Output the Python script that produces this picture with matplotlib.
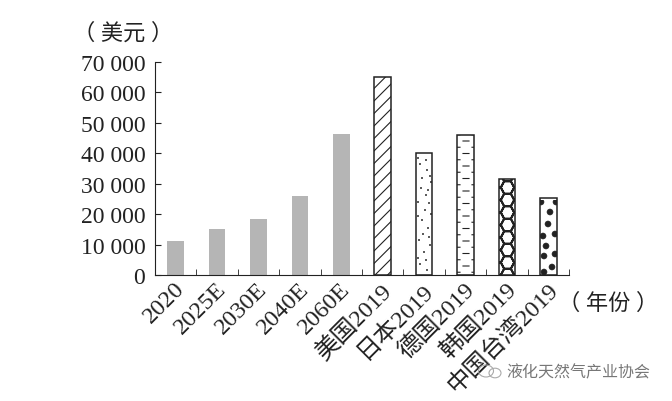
import numpy as np
import matplotlib
matplotlib.use('Agg')
import matplotlib.pyplot as plt
import matplotlib.hatch as mhatch
from matplotlib.patches import Ellipse
from matplotlib.path import Path
from matplotlib.transforms import ScaledTranslation

categories = ['2020', '2025E', '2030E', '2040E', '2060E',
              '美国2019', '日本2019', '德国2019', '韩国2019', '中国台湾2019']
values = [11200, 15000, 18500, 26000, 46200, 65000, 40000, 46000, 31500, 25400]
hatches = [None, None, None, None, None, '/', '.', '-', 'O', '*']
hatch_widths = [0, 0, 0, 0, 0, .8, .6, .8, 1.4, .4]
y_ticks = [0, 10000, 20000, 30000, 40000, 50000, 60000, 70000]

# 填充图案：位置是图块里的比例（一个图块 = 100 像素）
fine_dots = [(.25, .90), (.22, .80), (.28, .72), (.19, .60), (.30, .55), (.24, .48),
             (.20, .36), (.27, .30), (.31, .18), (.21, .12), (.26, .05), (.29, .97),
             (.18, .84), (.31, .86), (.23, .66), (.29, .63), (.18, .42), (.26, .40),
             (.30, .24), (.22, .22), (.18, .98), (.28, .10)]
big_dots = [(.56, .98), (.41, .98), (.50, .88), (.48, .76), (.43, .64), (.55, .66),
            (.46, .54), (.44, .44), (.55, .46), (.52, .33), (.44, .28)]


def segments(pairs):
    verts, codes = [], []
    for a, b in pairs:
        verts += [a, b]
        codes += [Path.MOVETO, Path.LINETO]
    return Path(verts, codes)


def diagonal_tile():
    return segments([((k / 8, 0), (k / 8 + 1, 1)) for k in range(-8, 8)])


def dash_tile():
    pairs = []
    for k in range(8):
        y = (.09 + k / 8) % 1
        pairs.append(((.63, y), (.69, y)))
        y2 = (y + 1 / 16) % 1
        pairs.append(((.575, y2), (.60, y2)))
        pairs.append(((.72, y2), (.745, y2)))
    return segments(pairs)


def hex_tile():
    w, h = 1 / 5, 1 / 8
    s = w / 3
    shape = [(-s, 0), (-s / 2, h / 2), (s / 2, h / 2), (s, 0), (s / 2, -h / 2), (-s / 2, -h / 2)]
    pairs = []
    for i in range(-1, 6):
        for j in range(-1, 9):
            for cx, cy in [(.075 + i * w, j * h), (.075 + (i + .5) * w, (j + .5) * h)]:
                pts = [(cx + dx, cy + dy) for dx, dy in shape]
                pairs += [(pts[n], pts[(n + 1) % 6]) for n in range(6)]
    return segments(pairs)


def dot_tile(points, r):
    circles = [Path.circle(p, r) for p in points]
    return Path.make_compound_path(*circles)


tiles = {'/': diagonal_tile(), '-': dash_tile(), 'O': hex_tile(),
         '.': dot_tile(fine_dots, .005), '*': dot_tile(big_dots, .03)}


class TilePattern(mhatch.HatchPatternBase):
    def __init__(self, hatch, density):
        self.path = tiles.get(hatch[:1])
        self.num_vertices = 0 if self.path is None else len(self.path.vertices)

    def set_vertices_and_codes(self, vertices, codes):
        vertices[:] = self.path.vertices
        codes[:] = self.path.codes


mhatch._hatch_types = [TilePattern]

plt.rcParams['font.family'] = ['Liberation Serif', 'Noto Sans CJK SC']
ink = '#222222'

fig = plt.figure(figsize=(6.72, 4.02), dpi=100)
ax = fig.add_axes([155 / 672, 1 - 276 / 402, 414 / 672, 213 / 402])

centers = np.arange(len(values)) + .5
for x, v, h, hw in zip(centers, values, hatches, hatch_widths):
    if h is None:
        ax.bar(x, v, width=.4, color='#b5b5b5')
    else:
        bar = ax.bar(x, v, width=.4, facecolor='white', edgecolor=ink, linewidth=1.1, hatch=h)[0]
        bar.set_hatch_linewidth(hw)

ax.set_xlim(0, 10)
ax.set_ylim(0, 70000)
ax.spines[['top', 'right']].set_visible(False)
ax.spines[['left', 'bottom']].set_color(ink)

ax.set_yticks(y_ticks)
ax.set_yticklabels([f'{v:,}'.replace(',', ' ') for v in y_ticks], fontsize=17, color=ink)
ax.tick_params(axis='y', direction='in', length=4, pad=7, color=ink)

ax.set_xticks(centers)
ax.set_xticklabels(categories, fontsize=17.5, color=ink, rotation=45, ha='right', va='top',
                   rotation_mode='anchor')
ax.tick_params(axis='x', which='major', length=0, pad=2)
shift = ScaledTranslation(-2 / 100, 0, fig.dpi_scale_trans)
for label in ax.get_xticklabels():
    label.set_transform(label.get_transform() + shift)
ax.set_xticks(np.arange(0, 11), minor=True)
ax.tick_params(axis='x', which='minor', direction='in', length=4, color=ink)

fig.text(123.5 / 672, 1 - 34 / 402, '（ 美元 ）', fontsize=16, color=ink, ha='center', va='center')
fig.text(608 / 672, 1 - 304 / 402, '（ 年份 ）', fontsize=16, color=ink, ha='center', va='center')

# 水印
fig.text(578 / 672, 1 - 373 / 402, '液化天然气产业协会', fontsize=11.5, color='#777777',
         ha='center', va='center')
for cx, cy, w in [(486, 30, 15), (495, 28, 12)]:
    fig.add_artist(Ellipse((cx, cy), w, w * .8, transform=None, fill=False,
                           edgecolor='#aaaaaa', linewidth=.8))

fig.savefig('out.png', dpi=100)
